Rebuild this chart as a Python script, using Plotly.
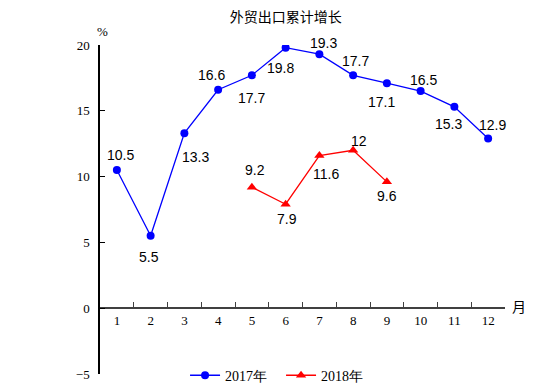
import plotly.graph_objects as go

months = [str(m) for m in range(1, 13)]
values_2017 = [10.5, 5.5, 13.3, 16.6, 17.7, 19.8, 19.3, 17.7, 17.1, 16.5, 15.3, 12.9]
months_2018 = ["5", "6", "7", "8", "9"]
values_2018 = [9.2, 7.9, 11.6, 12, 9.6]
y_ticks = [-5, 0, 5, 10, 15, 20]

# label placement offsets (pixels: dx right, dy down) relative to each point
label_offsets_2017 = [(4, -15), (-2, 21), (11, 24), (-7, -15), (0, 23), (-5, 20),
                      (4, -11), (2, -14), (-5, 19), (3, -11), (-6, 17), (4, -13)]
label_offsets_2018 = [(3, -17), (1, 15), (7, 18), (6, -9), (0, 14)]

label_font = dict(family="Liberation Sans, Arial", size=14, color="black")
serif = "Liberation Serif, Times New Roman, serif"

fig = go.Figure()
fig.add_trace(go.Scatter(
    x=months, y=values_2017, name="2017年", mode="lines+markers",
    line=dict(color="#0000FF", width=1.3),
    marker=dict(symbol="circle", size=8, color="#0000FF"),
))
fig.add_trace(go.Scatter(
    x=months_2018, y=values_2018, name="2018年", mode="lines+markers",
    line=dict(color="#FF0000", width=1.3),
    marker=dict(symbol="triangle-up", size=9, color="#FF0000"),
))

annotations = []
for xs, ys, offs in [(months, values_2017, label_offsets_2017),
                     (months_2018, values_2018, label_offsets_2018)]:
    for x, y, (dx, dy) in zip(xs, ys, offs):
        annotations.append(dict(x=months.index(x), y=y, xref="x", yref="y", text=str(y),
                                showarrow=False, xanchor="center", yanchor="middle",
                                xshift=dx, yshift=-dy, font=label_font))

annotations += [
    dict(text="%", xref="paper", yref="paper", x=0.007, y=1.042, showarrow=False,
         font=dict(family=serif, size=13, color="black"), xanchor="center", yanchor="middle"),
    dict(text="月", xref="paper", yref="paper", x=1.013, y=0.208, showarrow=False,
         font=dict(family="Noto Sans CJK SC", size=14, color="black"), xanchor="left", yanchor="middle"),
]

fig.update_layout(
    width=555, height=391,
    margin=dict(l=100, r=50, t=45, b=17, autoexpand=False),
    paper_bgcolor="white", plot_bgcolor="white",
    title=dict(text="外贸出口累计增长", x=0.515, xanchor="center", y=0.956, yanchor="middle",
               font=dict(family="Noto Sans CJK SC", size=14, color="black")),
    xaxis=dict(type="category", categoryorder="array", categoryarray=months,
               range=[-0.5, 11.5], anchor="free", position=0.2,
               showline=True, linecolor="#404040", linewidth=1.5,
               ticks="inside", ticklen=5, tickcolor="#404040", tickwidth=1.3,
               tickson="boundaries", showgrid=False, zeroline=False,
               tickfont=dict(family=serif, size=13, color="black"),
               automargin=False, fixedrange=True),
    yaxis=dict(range=[-5, 20], tickvals=y_ticks, showline=True, linecolor="black",
               linewidth=1.5, ticks="inside", ticklen=5, tickcolor="black", tickwidth=1.3,
               showgrid=False, zeroline=False, ticklabelstandoff=6,
               tickfont=dict(family=serif, size=13, color="black"),
               automargin=False, fixedrange=True),
    showlegend=True,
    legend=dict(orientation="h", x=0.21, xanchor="left", y=-0.005, yanchor="middle",
                font=dict(family=serif, size=14, color="black"),
                bgcolor="rgba(0,0,0,0)", entrywidth=51, entrywidthmode="pixels"),
    annotations=annotations,
)

fig.write_html("out.html", config={"displayModeBar": False},
               post_script="document.body.style.margin='0';")
